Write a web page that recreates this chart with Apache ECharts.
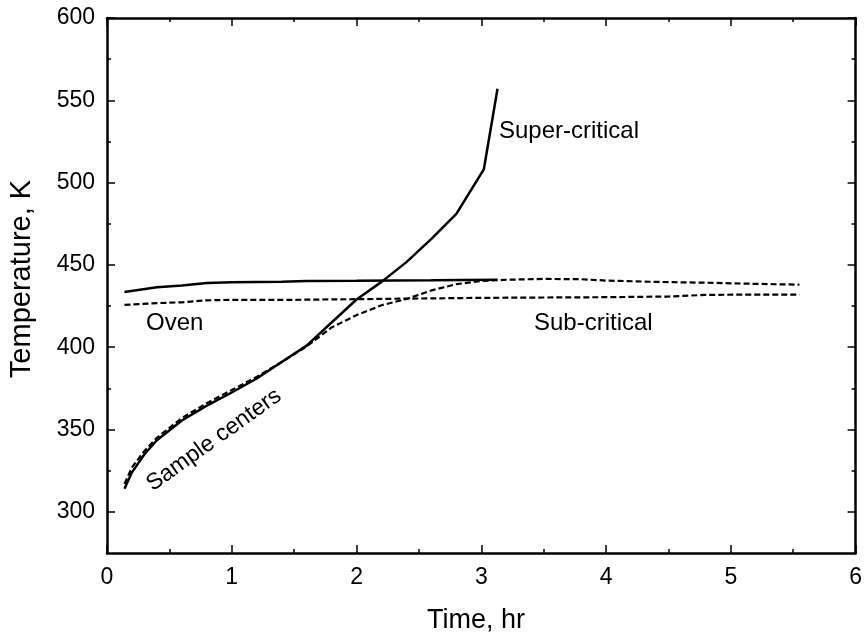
<!DOCTYPE html>
<html>
<head>
<meta charset="utf-8">
<script src="https://cdn.jsdelivr.net/npm/echarts@6/dist/echarts.min.js"></script>
<style>html,body{margin:0;padding:0;background:#fff}#c{width:865px;height:634px}</style>
</head>
<body>
<div id="c"></div>
<script>
// ---- data ----
const xTicks = [0, 1, 2, 3, 4, 5, 6];
const yMajorTicks = [300, 350, 400, 450, 500, 550, 600];
const yMinorTicks = [325, 375, 425, 475, 525, 575];

// Super-critical sample center (solid)
const superCenterTime = [0.14, 0.2, 0.3, 0.4, 0.6, 0.8, 1.0, 1.2, 1.4, 1.6, 1.8, 2.0, 2.2, 2.4, 2.6, 2.8, 3.02, 3.13];
const superCenterTemp = [314, 324, 335, 343.5, 355.5, 364.5, 372.5, 381, 391, 401, 415, 429, 439.7, 451.7, 465.8, 481, 508, 557];

// Super-critical oven (solid)
const superOvenTime = [0.14, 0.4, 0.6, 0.8, 1.0, 1.4, 1.6, 2.0, 2.6, 3.13];
const superOvenTemp = [433.5, 436.5, 437.5, 439, 439.5, 439.8, 440.3, 440.4, 440.7, 441];

// Sub-critical sample center (dashed)
const subCenterTime = [0.14, 0.2, 0.3, 0.4, 0.6, 0.8, 1.0, 1.2, 1.4, 1.6, 1.8, 2.0, 2.2, 2.4, 2.6, 2.8, 3.0, 3.2, 3.5, 3.8, 4.0, 4.4, 4.8, 5.2, 5.55];
const subCenterTemp = [317, 327, 337, 345, 357, 366, 374, 382, 391, 400.5, 412, 419.5, 425.5, 429.3, 434.5, 438.3, 440.2, 441, 441.5, 441.3, 440.5, 439.7, 439.2, 438.5, 438];

// Sub-critical oven (dashed)
const subOvenTime = [0.14, 0.4, 0.6, 0.8, 1.0, 1.5, 2.0, 2.5, 3.0, 3.5, 4.0, 4.5, 4.8, 5.2, 5.55];
const subOvenTemp = [425.7, 426.8, 427.3, 428.5, 428.8, 428.8, 429.2, 429.6, 430, 430.2, 430.4, 430.8, 431.8, 432, 432];

const labels = ['Super-critical', 'Oven', 'Sub-critical', 'Sample centers'];
const xName = 'Time, hr';
const yName = 'Temperature, K';

// ---- build ----
function pairs(t, v) { return t.map((x, i) => [x, v[i]]); }
const FONT = '"Liberation Sans", Arial, Helvetica, sans-serif';
const black = '#000';

const chart = echarts.init(document.getElementById('c'), null, {renderer: 'canvas'});

function xAx(pos, showLabel) {
  return {
    type: 'value', min: xTicks[0], max: xTicks[xTicks.length - 1], interval: 1, position: pos,
    axisLine: {show: true, onZero: false, lineStyle: {color: black, width: 2.5}},
    axisTick: {show: true, inside: true, length: 8, lineStyle: {color: black, width: 1.5}},
    minorTick: {show: true, splitNumber: 2, length: 4, lineStyle: {color: black, width: 1.5}},
    minorSplitLine: {show: false},
    axisLabel: {show: showLabel, color: black, fontSize: 23, margin: 13, fontFamily: FONT},
    splitLine: {show: false}
  };
}
function yAx(pos, ticks, len, showLine, showLabel) {
  return {
    type: 'value', min: 275, max: 600, position: pos,
    axisLine: {show: showLine, onZero: false, lineStyle: {color: black, width: 2.5}},
    axisTick: {show: true, inside: true, length: len, customValues: ticks, lineStyle: {color: black, width: 1.5}},
    axisLabel: {show: showLabel, customValues: ticks, color: black, fontSize: 23, margin: 12, fontFamily: FONT},
    splitLine: {show: false}
  };
}

function line(t, v, dashed) {
  return {
    type: 'line', data: pairs(t, v), symbol: 'none', smooth: false,
    xAxisIndex: 0, yAxisIndex: 0,
    lineStyle: {color: black, width: dashed ? 2.2 : 2.5, type: dashed ? [6, 3] : 'solid'},
    silent: true
  };
}

const txt = (text, x, y, opts) => Object.assign({
  type: 'text', x: x, y: y,
  style: Object.assign({text: text, fill: black, font: '24px ' + FONT, textVerticalAlign: 'middle'}, (opts && opts.style) || {})
}, opts && opts.extra || {});

chart.setOption({
  animation: false,
  backgroundColor: '#fff',
  grid: {left: 107, right: 6, top: 18, bottom: 81, containLabel: false},
  xAxis: [xAx('bottom', true), xAx('top', false)],
  yAxis: [
    yAx('left', yMajorTicks, 8, true, true),
    yAx('left', yMinorTicks, 4, false, false),
    yAx('right', yMajorTicks, 8, true, false),
    yAx('right', yMinorTicks, 4, false, false)
  ],
  series: [
    line(superCenterTime, superCenterTemp, false),
    line(superOvenTime, superOvenTemp, false),
    line(subCenterTime, subCenterTemp, true),
    line(subOvenTime, subOvenTemp, true)
  ],
  graphic: [
    txt(labels[0], 499, 131, {style: {textAlign: 'left'}}),
    txt(labels[1], 146, 323, {style: {textAlign: 'left'}}),
    txt(labels[2], 534, 323, {style: {textAlign: 'left'}}),
    txt(labels[3], 214, 440, {style: {textAlign: 'center', font: '23px ' + FONT}, extra: {rotation: 0.62}}),
    txt(xName, 476, 621, {style: {textAlign: 'center', font: '27px ' + FONT}}),
    txt(yName, 22, 279, {style: {textAlign: 'center', font: '29px ' + FONT}, extra: {rotation: Math.PI / 2}})
  ]
});
</script>
</body>
</html>
